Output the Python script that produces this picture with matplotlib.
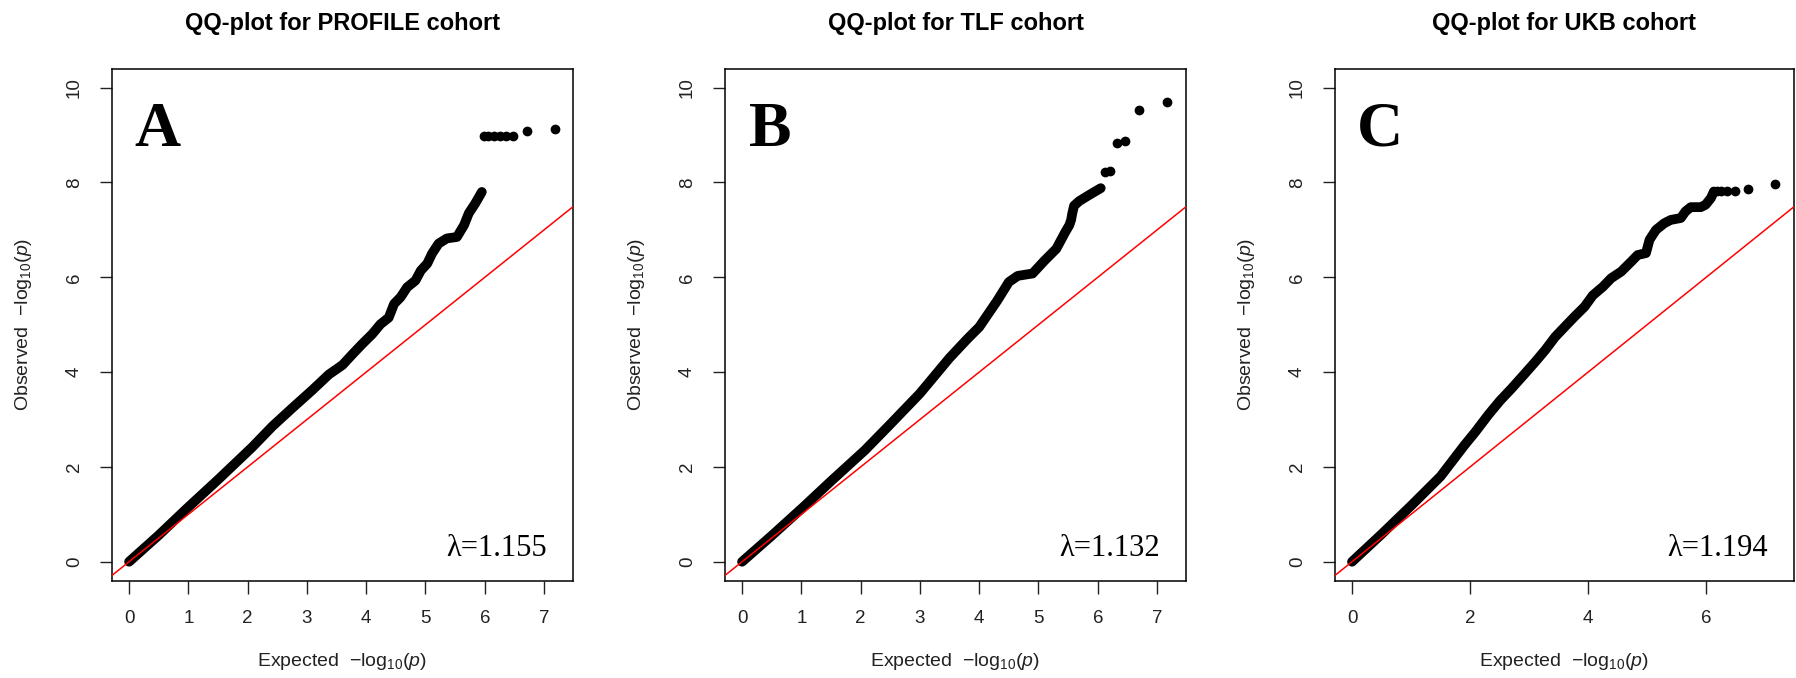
import matplotlib
matplotlib.use("Agg")
import matplotlib.pyplot as plt

plt.rcParams['font.family'] = ['Liberation Sans', 'DejaVu Sans']
plt.rcParams['mathtext.fontset'] = 'custom'
plt.rcParams['mathtext.rm'] = 'Liberation Sans'
plt.rcParams['mathtext.it'] = 'Liberation Sans:italic'
plt.rcParams['mathtext.bf'] = 'Liberation Sans:bold'

# Panel titles, labels and genomic inflation factors
titles = ["QQ-plot for PROFILE cohort", "QQ-plot for TLF cohort", "QQ-plot for UKB cohort"]
letters = ["A", "B", "C"]
lambdas = [1.155, 1.132, 1.194]

# Expected / observed -log10(p): dense body of each cohort
profile_exp = [0.0, 0.5, 0.98, 1.5, 2.08, 2.42, 2.76, 3.09, 3.37, 3.6, 3.77, 3.93, 4.10, 4.24,
               4.38, 4.47, 4.58, 4.69, 4.83, 4.92, 5.03, 5.11, 5.22, 5.36, 5.53, 5.65, 5.73,
               5.84, 5.95]
profile_obs = [0.0, 0.56, 1.13, 1.73, 2.42, 2.86, 3.25, 3.62, 3.95, 4.15, 4.38, 4.59, 4.80, 5.01,
               5.15, 5.44, 5.58, 5.79, 5.93, 6.14, 6.29, 6.50, 6.71, 6.82, 6.85, 7.10, 7.35,
               7.56, 7.80]

tlf_exp = [0.0, 0.5, 1.03, 1.5, 2.07, 2.5, 3.0, 3.5, 3.8, 4.0, 4.3, 4.5, 4.65, 4.9, 5.1, 5.3,
           5.45, 5.52, 5.55, 5.57, 5.6, 5.69, 5.86, 6.05]
tlf_obs = [0.0, 0.55, 1.15, 1.7, 2.35, 2.9, 3.55, 4.3, 4.7, 4.95, 5.5, 5.9, 6.03, 6.08, 6.35,
           6.6, 6.95, 7.1, 7.21, 7.35, 7.51, 7.61, 7.74, 7.88]

ukb_exp = [0.0, 0.5, 1.0, 1.5, 1.9, 2.09, 2.31, 2.51, 2.70, 2.93, 3.10, 3.27, 3.44, 3.60, 3.77,
           3.94, 4.08, 4.25, 4.39, 4.56, 4.73, 4.84, 4.98, 5.04, 5.15, 5.29, 5.40, 5.57, 5.65,
           5.74, 5.91, 5.99, 6.08, 6.13]
ukb_obs = [0.0, 0.58, 1.18, 1.80, 2.45, 2.74, 3.10, 3.40, 3.65, 3.97, 4.21, 4.46, 4.74, 4.95,
           5.17, 5.38, 5.62, 5.80, 5.98, 6.12, 6.33, 6.47, 6.51, 6.79, 7.00, 7.14, 7.21, 7.25,
           7.39, 7.48, 7.48, 7.53, 7.67, 7.81]

# Isolated top hits
profile_tail_exp = [5.98, 6.06, 6.15, 6.25, 6.35, 6.48, 6.72, 7.19]
profile_tail_obs = [8.98, 8.98, 8.98, 8.98, 8.98, 8.99, 9.09, 9.13]
tlf_tail_exp = [6.12, 6.20, 6.32, 6.46, 6.69, 7.17]
tlf_tail_obs = [8.23, 8.25, 8.83, 8.88, 9.53, 9.69]
ukb_tail_exp = [6.19, 6.25, 6.36, 6.49, 6.71, 7.17]
ukb_tail_obs = [7.82, 7.82, 7.82, 7.83, 7.86, 7.96]

x_ticks = [[0, 1, 2, 3, 4, 5, 6, 7], [0, 1, 2, 3, 4, 5, 6, 7], [0, 2, 4, 6]]
y_ticks = [0, 2, 4, 6, 8, 10]

bodies = [(profile_exp, profile_obs), (tlf_exp, tlf_obs), (ukb_exp, ukb_obs)]
tails = [(profile_tail_exp, profile_tail_obs), (tlf_tail_exp, tlf_tail_obs),
         (ukb_tail_exp, ukb_tail_obs)]

W, H = 1796, 678
fig = plt.figure(figsize=(W / 100, H / 100), dpi=100)

lefts = [112, 725, 1335]
widths = [461, 461, 459]
top, bottom = 68.7, 580.7

for i in range(3):
    ax = fig.add_axes([lefts[i] / W, 1 - bottom / H, widths[i] / W, (bottom - top) / H])
    bx, by = bodies[i]
    tx, ty = tails[i]
    ax.plot(bx, by, color='black', lw=7, solid_capstyle='round', solid_joinstyle='round',
            zorder=2)
    ax.plot(tx, ty, 'o', color='black', ms=6, zorder=2)
    ax.axline((0, 0), slope=1, color='red', lw=1.1, zorder=3)

    ax.set_xlim(-0.288, 7.488)
    ax.set_ylim(-0.4, 10.4)
    ax.set_xticks(x_ticks[i])
    ax.set_xticklabels([str(t) for t in x_ticks[i]])
    ax.set_yticks(y_ticks)
    ax.set_yticklabels([str(t) for t in y_ticks], rotation=90, va='center')
    ax.tick_params(direction='out', length=9, width=1.0, pad=12, labelsize=13.5,
                   colors='#222222', labelcolor='#222222')
    for s in ax.spines.values():
        s.set_linewidth(1.1)
        s.set_color('black')

    ax.set_title(titles[i], fontsize=17, fontweight='bold', pad=28)
    ax.set_xlabel(r'Expected  $-\mathrm{log}_{10}(p)$', fontsize=14, color='#222222')
    ax.set_ylabel(r'Observed  $-\mathrm{log}_{10}(p)$', fontsize=14, color='#222222')
    ax.xaxis.set_label_coords(0.5, -0.158)
    ax.yaxis.set_label_coords(-0.193, 0.5)
    ax.xaxis.label.set_va('center')
    ax.yaxis.label.set_va('center')

    ax.text(0.47, 8.78, letters[i], fontfamily='Liberation Serif', fontweight='bold',
            fontsize=46, ha='center', va='baseline')
    ax.text(6.2, 0.13, "\u03bb={:.3f}".format(lambdas[i]), fontfamily='Liberation Serif',
            fontsize=22, ha='center', va='baseline')

fig.savefig("out.png", dpi=100)
